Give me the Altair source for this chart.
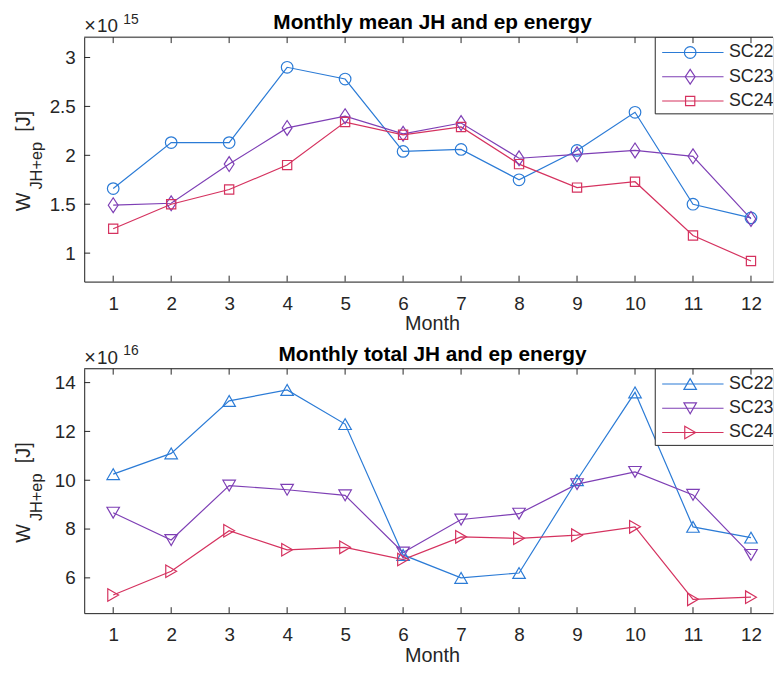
import altair as alt
import pandas as pd

months = list(range(1, 13))
series = ["SC22", "SC23", "SC24"]
colors = ["#2b7bd6", "#7e3fb5", "#d5325f"]

mean_sc22 = [1.66, 2.13, 2.13, 2.90, 2.78, 2.04, 2.06, 1.75, 2.05, 2.44, 1.50, 1.36]
mean_sc23 = [1.49, 1.51, 1.91, 2.28, 2.40, 2.22, 2.33, 1.97, 2.01, 2.05, 1.99, 1.35]
mean_sc24 = [1.25, 1.50, 1.65, 1.90, 2.34, 2.21, 2.29, 1.91, 1.67, 1.73, 1.18, 0.92]

total_sc22 = [10.25, 11.10, 13.25, 13.70, 12.30, 6.94, 6.00, 6.20, 10.00, 13.60, 8.09, 7.65]
total_sc23 = [8.67, 7.55, 9.78, 9.61, 9.38, 7.04, 8.39, 8.63, 9.84, 10.34, 9.40, 6.94]
total_sc24 = [5.30, 6.27, 7.93, 7.15, 7.25, 6.75, 7.68, 7.62, 7.75, 8.09, 5.12, 5.21]

mean_yticks = [1, 1.5, 2, 2.5, 3]
total_yticks = [6, 8, 10, 12, 14]
mean_domain = [0.709, 3.208]
total_domain = [4.555, 14.57]

titles = ["Monthly mean JH and ep energy", "Monthly total JH and ep energy"]
exponents = ["15", "16"]

W = 696
H = 247
FONT = "Liberation Sans"
TXT = "#262626"
DIAMOND = "M0,-1L0.66,0L0,1L-0.66,0Z"


def one(text):
    return alt.Chart(pd.DataFrame({"t": [text]}))


def panel(vals, shapes, sizes, ydomain, yticks, title, expo):
    rows = []
    for s, vs in zip(series, vals):
        for m, v in zip(months, vs):
            rows.append({"series": s, "month": m, "v": v})
    df = pd.DataFrame(rows)
    base = alt.Chart(df)

    x = alt.X(
        "month:Q",
        scale=alt.Scale(domain=[0.5, 12.38], nice=False, zero=False),
        axis=alt.Axis(
            values=months, format="d", title=None, ticks=False, tickSize=0,
            grid=False, labelPadding=13, labelFontSize=19, labelFont=FONT,
            labelColor=TXT, domainColor=TXT, labelFlush=False,
        ),
    )
    y = alt.Y(
        "v:Q",
        scale=alt.Scale(domain=ydomain, nice=False, zero=False),
        axis=alt.Axis(
            values=yticks, format="~g", title=None, ticks=False, tickSize=0,
            grid=False, labelPadding=9, labelFontSize=19, labelFont=FONT,
            labelColor=TXT, domainColor=TXT,
        ),
    )

    layers = []
    for s, c in zip(series, colors):
        layers.append(
            base.transform_filter(alt.datum.series == s)
            .mark_line(strokeWidth=1.2, color=c)
            .encode(x=x, y=y)
        )
    for s, c, shp, sz in zip(series, colors, shapes, sizes):
        layers.append(
            base.transform_filter(alt.datum.series == s)
            .mark_point(filled=False, strokeWidth=1.2, opacity=1, color=c,
                        shape=shp, size=sz)
            .encode(x="month:Q", y="v:Q")
        )

    # legend box
    layers.append(
        one("box").mark_rect(fill="white", stroke=TXT, strokeWidth=1, clip=True).encode(
            x=alt.value(577), x2=alt.value(W + 20), y=alt.value(0), y2=alt.value(77.5)
        )
    )
    row_y = [15.5, 40, 64.5]
    for s, c, shp, sz, ry in zip(series, colors, shapes, sizes, row_y):
        layers.append(
            one(s).mark_rule(strokeWidth=1.2).encode(
                x=alt.value(584), x2=alt.value(646), y=alt.value(ry), color=alt.value(c)
            )
        )
        layers.append(
            one(s).mark_point(filled=False, strokeWidth=1.2, opacity=1, color=c,
                              shape=shp, size=sz).encode(
                x=alt.value(612.3), y=alt.value(ry)
            )
        )
        layers.append(
            one(s).mark_text(align="left", baseline="middle", font=FONT, fontSize=18,
                             color=TXT, clip=True).encode(
                x=alt.value(651.5), y=alt.value(ry), text="t:N"
            )
        )

    # inward ticks
    tick_m = pd.DataFrame({"month": months})
    tick_v = pd.DataFrame({"v": yticks})
    layers.append(
        alt.Chart(tick_m).mark_rule(color=TXT, strokeWidth=1).encode(
            x="month:Q", y=alt.value(H), y2=alt.value(H - 6)
        )
    )
    layers.append(
        alt.Chart(tick_m).mark_rule(color=TXT, strokeWidth=1).encode(
            x="month:Q", y=alt.value(0), y2=alt.value(6)
        )
    )
    layers.append(
        alt.Chart(tick_v).mark_rule(color=TXT, strokeWidth=1).encode(
            y="v:Q", x=alt.value(0), x2=alt.value(6)
        )
    )
    # top border
    layers.append(
        one("top").mark_rule(color=TXT, strokeWidth=1).encode(
            x=alt.value(0), x2=alt.value(W), y=alt.value(0)
        )
    )

    # title
    layers.append(
        one(title).mark_text(align="center", baseline="alphabetic", font=FONT,
                             fontSize=21, fontWeight="bold", color="black").encode(
            x=alt.value(352), y=alt.value(-8), text="t:N"
        )
    )
    # exponent label
    layers.append(
        one("×").mark_text(align="left", baseline="alphabetic", font=FONT,
                           fontSize=20, color=TXT).encode(
            x=alt.value(0), y=alt.value(-5), text="t:N"
        )
    )
    layers.append(
        one("10").mark_text(align="left", baseline="alphabetic", font=FONT,
                            fontSize=19, color=TXT).encode(
            x=alt.value(13), y=alt.value(-5), text="t:N"
        )
    )
    layers.append(
        one(expo).mark_text(align="left", baseline="alphabetic", font=FONT,
                            fontSize=14, color=TXT).encode(
            x=alt.value(39.5), y=alt.value(-13.5), text="t:N"
        )
    )
    # y label W_{JH+ep} [J]
    layers.append(
        one("W").mark_text(align="left", baseline="alphabetic", font=FONT,
                           fontSize=20, color=TXT).encode(
            x=alt.value(-54.3), y=alt.value(H / 2 + 52.5), text="t:N",
            angle=alt.value(270)
        )
    )
    layers.append(
        one("JH+ep").mark_text(align="left", baseline="alphabetic", font=FONT,
                               fontSize=16.5, color=TXT).encode(
            x=alt.value(-42.5), y=alt.value(H / 2 + 30.5), text="t:N",
            angle=alt.value(270)
        )
    )
    layers.append(
        one("[J]").mark_text(align="left", baseline="alphabetic", font=FONT,
                             fontSize=20, color=TXT).encode(
            x=alt.value(-54.3), y=alt.value(H / 2 - 28), text="t:N",
            angle=alt.value(270)
        )
    )
    # x label
    layers.append(
        one("Month").mark_text(align="center", baseline="alphabetic", font=FONT,
                               fontSize=20, color=TXT).encode(
            x=alt.value(352), y=alt.value(H + 49), text="t:N"
        )
    )

    return alt.layer(*layers).properties(width=W, height=H)


top = panel(
    [mean_sc22, mean_sc23, mean_sc24],
    ["circle", DIAMOND, "square"],
    [137, 225, 87],
    mean_domain, mean_yticks, titles[0], exponents[0],
)
bottom = panel(
    [total_sc22, total_sc23, total_sc24],
    ["triangle-up", "triangle-down", "triangle-right"],
    [160, 160, 160],
    total_domain, total_yticks, titles[1], exponents[1],
)

chart = alt.vconcat(top, bottom, spacing=8).properties(
    padding={"left": 6, "top": 0, "right": 0, "bottom": 0}
).configure_view(stroke=None).configure(background="white")

chart.save("out.html", embed_options={"renderer": "svg", "actions": False})
